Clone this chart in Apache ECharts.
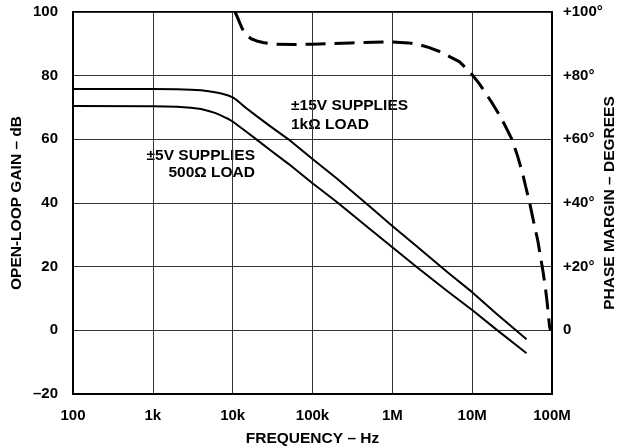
<!DOCTYPE html>
<html>
<head>
<meta charset="utf-8">
<script src="https://cdn.jsdelivr.net/npm/echarts@6/dist/echarts.min.js"></script>
<style>
html,body{margin:0;padding:0;background:#fff;}
#c{width:623px;height:448px;}
</style>
</head>
<body>
<div id="c"></div>
<script>
// Frequency tick labels (log axis, decades)
const xTickLabels = {100:'100',1000:'1k',10000:'10k',100000:'100k',1000000:'1M',10000000:'10M',100000000:'100M'};
const gainTicks = [-20,0,20,40,60,80,100];

// ±15V supplies, 1kΩ load: [frequency Hz, gain dB]
const gain15V = [
  [100,75.8],[1000,75.8],[2000,75.7],[3000,75.6],[4000,75.4],[5000,75.1],[6000,74.8],
  [7000,74.5],[8000,74.1],[9000,73.7],[10000,73.2],[11000,72.5],[12000,71.7],
  [13500,70.6],[15000,69.7],[20000,67.3],[30000,64.0],[50000,60.0],[100000,53.8],
  [200000,47.8],[500000,39.3],[1000000,32.8],[2000000,26.5],[5000000,18.1],
  [10000000,12.0],[20000000,5.3],[48000000,-2.8]
];
// ±5V supplies, 500Ω load
const gain5V = [
  [100,70.5],[1000,70.4],[2000,70.2],[3000,69.9],[4000,69.5],[5000,68.9],[6000,68.3],
  [7000,67.6],[8000,66.9],[9000,66.3],[10000,65.6],[12000,64.1],[15000,62.3],[20000,59.9],
  [30000,56.5],[50000,52.3],[100000,46.2],[200000,40.4],[500000,32.2],[1000000,26.1],
  [2000000,20.0],[5000000,12.1],[10000000,6.4],[20000000,0.3],[48000000,-7.2]
];
// Phase margin (degrees), dashed
const phaseMargin = [
  [10700,100],[11500,98.3],[12300,96.5],[13500,94.2],[15000,92.7],[17000,91.6],
  [20000,90.9],[24000,90.4],[32000,89.9],[60000,89.8],[100000,89.9],[300000,90.3],
  [1000000,90.6],[1600000,90.3],[2200000,89.7],[2900000,88.8],[3900000,87.6],
  [5200000,86.0],[6900000,84.4],[8300000,82.5],[10000000,80.3],[12000000,77.8],
  [14800000,74.5],[18000000,71.2],[21900000,67.7],[26000000,64.2],[31600000,59.9],
  [37000000,54.8],[42700000,49.4],[47000000,45.0],[52500000,40.0],[59000000,34.0],
  [66000000,28.5],[72000000,23.0],[77600000,18.1],[83000000,13.0],[87000000,8.7],
  [90000000,5.0],[93000000,1.3],[96000000,0]
];

const FONT = 'Liberation Sans, Arial, sans-serif';
const chart = echarts.init(document.getElementById('c'), null, {renderer:'canvas'});
const tick = {fontFamily:FONT, fontWeight:'bold', fontSize:15, color:'#000'};
const title = {fontFamily:FONT, fontWeight:'bold', fontSize:15.5, color:'#000'};
const annFont = 'bold 15.5px ' + FONT;

chart.setOption({
  animation:false,
  backgroundColor:'#fff',
  grid:{left:73,right:71,top:12,bottom:54,show:true,borderColor:'#000',borderWidth:2,
        backgroundColor:'transparent',containLabel:false,outerBoundsMode:'none'},
  xAxis:{
    type:'log', logBase:10, min:100, max:100000000,
    name:'FREQUENCY – Hz', nameLocation:'middle', nameGap:37, nameMoveOverlap:false,
    nameTextStyle:title,
    axisLine:{show:true,onZero:false,lineStyle:{color:'#000',width:2}},
    axisTick:{show:false},
    axisLabel:Object.assign({margin:14, formatter:v=>xTickLabels[Math.round(v)]||''}, tick),
    splitLine:{show:true,lineStyle:{color:'#333',width:1}}
  },
  yAxis:[{
    type:'value', min:-20, max:100, interval:20,
    name:'OPEN-LOOP GAIN – dB', nameLocation:'middle', nameGap:48, nameRotate:90, nameMoveOverlap:false,
    nameTextStyle:title,
    axisLine:{show:true,lineStyle:{color:'#000',width:2}},
    axisTick:{show:false},
    axisLabel:Object.assign({margin:15, formatter:v=>gainTicks.indexOf(v)>=0 ? (v<0?'–'+(-v):String(v)) : ''}, tick),
    splitLine:{show:true,lineStyle:{color:'#333',width:1}}
  },{
    type:'value', min:-20, max:100, interval:20, position:'right',
    name:'PHASE MARGIN – DEGREES', nameLocation:'middle', nameGap:50, nameRotate:90, nameMoveOverlap:false,
    nameTextStyle:title,
    axisLine:{show:true,lineStyle:{color:'#000',width:2}},
    axisTick:{show:false},
    axisLabel:Object.assign({margin:11, formatter:v=> v<0 ? '' : (v===0 ? '0' : '+'+v+'°')}, tick),
    splitLine:{show:false}
  }],
  series:[
    {type:'line', name:'±15V', data:gain15V, showSymbol:false, smooth:false,
     lineStyle:{color:'#000',width:2}},
    {type:'line', name:'±5V', data:gain5V, showSymbol:false, smooth:false,
     lineStyle:{color:'#000',width:2}},
    {type:'line', name:'Phase', yAxisIndex:1, data:phaseMargin, showSymbol:false, smooth:false,
     lineStyle:{color:'#000',width:3,type:[20,9]}}
  ],
  graphic:[
    {type:'text', left:291, top:98, style:{text:'±15V SUPPLIES', font:annFont, fill:'#000'}},
    {type:'text', left:291, top:117, style:{text:'1kΩ LOAD', font:annFont, fill:'#000'}},
    {type:'text', right:368, top:148, style:{text:'±5V SUPPLIES', font:annFont, fill:'#000'}},
    {type:'text', right:368, top:165, style:{text:'500Ω LOAD', font:annFont, fill:'#000'}}
  ]
});
</script>
</body>
</html>
